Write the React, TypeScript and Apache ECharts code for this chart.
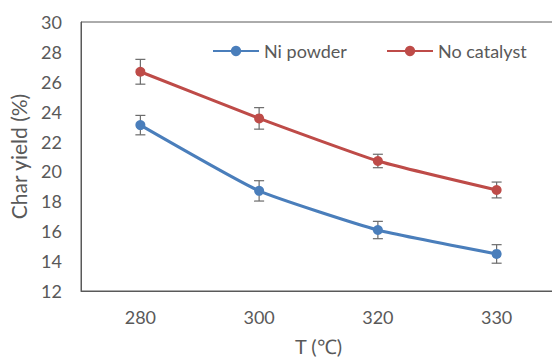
import React, { useEffect, useRef } from "react";
import * as echarts from "echarts";

const categories = ["280", "300", "320", "330"];
const niPowder = [23.1, 18.7, 16.08, 14.48];
const niPowderErr = [0.65, 0.68, 0.58, 0.62];
const noCatalyst = [26.67, 23.55, 20.7, 18.76];
const noCatalystErr = [0.83, 0.72, 0.45, 0.53];

const BLUE = "#4A7EBB";
const RED = "#BE4B48";
const TEXT = "#595959";
const FONT = "Lato";

function errorData(vals: number[], errs: number[]) {
  return vals.map((v, i) => [i, v - errs[i], v + errs[i]]);
}

function errorSeries(name: string, vals: number[], errs: number[]) {
  return {
    type: "custom",
    name: name + " err",
    data: errorData(vals, errs),
    z: 1,
    renderItem: (params: any, api: any) => {
      const x = api.value(0);
      const lo = api.coord([x, api.value(1)]);
      const hi = api.coord([x, api.value(2)]);
      const hw = 5;
      const style = { stroke: "#6B6B6B", lineWidth: 1.2 };
      return {
        type: "group",
        children: [
          { type: "line", shape: { x1: lo[0], y1: lo[1], x2: hi[0], y2: hi[1] }, style },
          { type: "line", shape: { x1: lo[0] - hw, y1: lo[1], x2: lo[0] + hw, y2: lo[1] }, style },
          { type: "line", shape: { x1: hi[0] - hw, y1: hi[1], x2: hi[0] + hw, y2: hi[1] }, style },
        ],
      };
    },
  };
}

export default function App() {
  const ref = useRef<HTMLDivElement>(null);
  useEffect(() => {
    if (!ref.current) return;
    const chart = echarts.init(ref.current, null, { renderer: "svg" });
    const legendCommon = {
      orient: "horizontal",
      itemWidth: 46,
      itemHeight: 13,
      itemGap: 5,
      textStyle: { color: TEXT, fontSize: 18, fontFamily: FONT, padding: [0, 0, 0, 0] },
      padding: 0,
    };
    chart.setOption({
      animation: false,
      textStyle: { fontFamily: FONT },
      grid: {
        left: 81,
        top: 22,
        width: 475,
        height: 269,
        outerBoundsMode: "none",
        containLabel: false,
        show: true,
        borderColor: "#595959",
        borderWidth: 1,
        backgroundColor: "transparent",
      },
      legend: [
        { ...legendCommon, data: ["Ni powder"], left: 212, top: 42 },
        { ...legendCommon, data: ["No catalyst"], left: 386, top: 42 },
      ],
      xAxis: {
        type: "category",
        data: categories,
        boundaryGap: true,
        axisLine: { show: true, lineStyle: { color: "#595959", width: 1 } },
        axisTick: { show: false },
        axisLabel: { color: TEXT, fontSize: 18, fontFamily: FONT, margin: 17 },
        name: "T (℃)",
        nameLocation: "middle",
        nameGap: 45,
        nameTextStyle: { color: TEXT, fontSize: 20, fontFamily: FONT, lineHeight: 20 },
        splitLine: { show: false },
      },
      yAxis: {
        type: "value",
        min: 12,
        max: 30,
        interval: 2,
        axisLine: { show: true, lineStyle: { color: "#595959", width: 1 } },
        axisTick: { show: false },
        splitLine: { show: false },
        axisLabel: { color: TEXT, fontSize: 18, fontFamily: FONT, margin: 19 },
        name: "Char yield (%)",
        nameLocation: "middle",
        nameGap: 52,
        nameTextStyle: { color: TEXT, fontSize: 21, fontFamily: FONT },
      },
      series: [
        errorSeries("Ni powder", niPowder, niPowderErr),
        errorSeries("No catalyst", noCatalyst, noCatalystErr),
        {
          type: "line",
          name: "Ni powder",
          data: niPowder,
          smooth: 0.15,
          symbol: "circle",
          symbolSize: 10,
          z: 3,
          lineStyle: { color: BLUE, width: 3 },
          itemStyle: { color: BLUE },
        },
        {
          type: "line",
          name: "No catalyst",
          data: noCatalyst,
          smooth: 0.15,
          symbol: "circle",
          symbolSize: 10,
          z: 3,
          lineStyle: { color: RED, width: 3 },
          itemStyle: { color: RED },
        },
      ],
    });
    return () => chart.dispose();
  }, []);
  return (
    <div
      ref={ref}
      style={{ position: "fixed", left: 0, top: 0, width: 552, height: 359, background: "#fff" }}
    />
  );
}
